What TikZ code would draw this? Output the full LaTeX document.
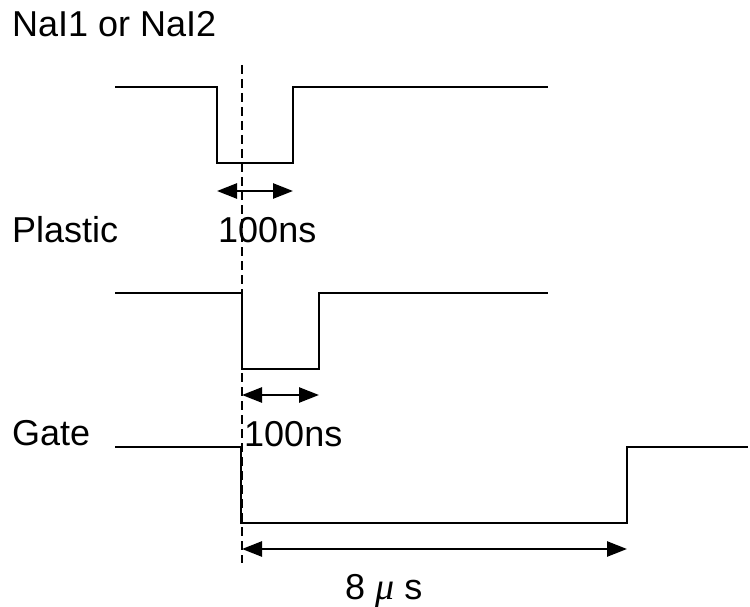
\documentclass[tikz,border=0pt]{standalone}
\usepackage{fontspec}
\setmainfont{Liberation Sans}
\newfontfamily\muserif{Liberation Serif}
\usetikzlibrary{arrows.meta}
\begin{document}
\begin{tikzpicture}[x=1pt,y=-1pt,
  wave/.style={line width=2.6pt, line join=miter},
  dim/.style={line width=2.6pt, {Triangle[length=20pt,width=15pt]}-{Triangle[length=20pt,width=15pt]}},
  guide/.style={line width=2.2pt, dash pattern=on 9pt off 5pt},
  lbl/.style={anchor=base west, inner sep=0pt, font=\fontsize{36pt}{42pt}\selectfont}]
\fill[white] (0,0) rectangle (750,607);
\useasboundingbox (0,0) rectangle (750,607);
% labels
\node[lbl] (lnai) at (12,37) {NaI1 or NaI2};
\node[lbl] (lpla) at (12,242) {Plastic};
\node[lbl] (lgat) at (12,445) {Gate};
% waveforms
\draw[wave] (115,87) -- (217,87) -- (217,163) -- (293,163) -- (293,87) -- (548,87);
\draw[wave] (115,293) -- (242,293) -- (242,369) -- (319,369) -- (319,293) -- (548,293);
\draw[wave] (115,447) -- (241,447) -- (241,523) -- (627,523) -- (627,447) -- (748,447);
% guide line
\coordinate (gtop) at (242,65);
\coordinate (gbot) at (242,563);
\draw[guide] (gtop) -- (gbot);
% dimension arrows
\coordinate (a1) at (217,191); \coordinate (b1) at (293,191);
\coordinate (a2) at (242,395); \coordinate (b2) at (319,395);
\coordinate (a3) at (242,549); \coordinate (b3) at (627,549);
\draw[dim] (a1) -- (b1);
\draw[dim] (a2) -- (b2);
\draw[dim] (a3) -- (b3);
% dimension labels
\node[lbl] (t1) at (218,242) {100ns};
\node[lbl] (t2) at (244,446) {100ns};
\node[lbl] (t3) at (345,599) {8 {\muserif\itshape\fontsize{38pt}{42pt}\selectfont μ} s};
\end{tikzpicture}
\end{document}
